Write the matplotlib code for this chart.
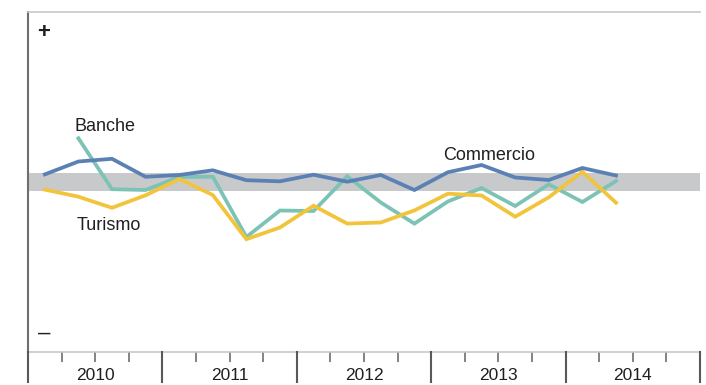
import matplotlib.pyplot as plt
import numpy as np

# trimestri 2010 T1 - 2014 T2
trimestri = ["2010T1", "2010T2", "2010T3", "2010T4",
             "2011T1", "2011T2", "2011T3", "2011T4",
             "2012T1", "2012T2", "2012T3", "2012T4",
             "2013T1", "2013T2", "2013T3", "2013T4",
             "2014T1", "2014T2"]
anni = ["2010", "2011", "2012", "2013", "2014"]

commercio = [0.76, 2.05, 2.32, 0.52, 0.70, 1.17, 0.18, 0.07, 0.73,
             0.03, 0.70, -0.80, 0.98, 1.70, 0.45, 0.20, 1.40, 0.65]
banche = [np.nan, 4.37, -0.72, -0.80, 0.50, 0.53, -5.50, -2.85, -2.90,
          0.57, -2.05, -4.16, -1.94, -0.60, -2.40, -0.23, -2.00, 0.10]
turismo = [-0.76, -1.47, -2.58, -1.33, 0.30, -1.30, -5.72, -4.55, -2.37,
           -4.16, -4.05, -2.84, -1.17, -1.35, -3.47, -1.53, 1.02, -2.07]

# fascia di normalità attorno allo zero
fascia = (-0.9, 0.9)

plt.rcParams['font.family'] = ['DejaVu Sans Condensed', 'Liberation Sans', 'DejaVu Sans']

fig = plt.figure(figsize=(7.06, 3.85), dpi=100)
ax = fig.add_axes([28 / 706, 1 - 352 / 385, 672 / 706, 340 / 385])

x = np.arange(len(trimestri)) + 0.5
n_anni = len(anni)
ax.set_xlim(0, n_anni * 4)
ax.set_ylim(-17, 17)

ax.axhspan(fascia[0], fascia[1], color='#c8c9cb', lw=0, zorder=1)

ax.plot(x, commercio, color='#5b80b4', lw=2.7, zorder=3, solid_joinstyle='miter')
ax.plot(x, banche, color='#7cc3b6', lw=2.7, zorder=2, solid_joinstyle='miter')
ax.plot(x, turismo, color='#f2c43c', lw=2.7, zorder=2, solid_joinstyle='miter')

# etichette delle serie
ax.text(1.38, 5.1, "Banche", fontsize=13, color='#231f20', va='baseline')
ax.text(1.45, -4.8, "Turismo", fontsize=13, color='#231f20', va='baseline')
ax.text(12.35, 2.2, "Commercio", fontsize=13, color='#231f20', va='baseline')

# segni + e -
ax.text(0.45, 15.0, "+", fontsize=16, fontweight='bold', color='#231f20',
        ha='center', va='center')
ax.text(0.48, -15.1, "\u2013", fontsize=16, color='#231f20',
        ha='center', va='center')

# assi
ax.spines['right'].set_visible(False)
ax.spines['top'].set_color('#c8c8c8')
ax.spines['top'].set_linewidth(1.2)
ax.spines['bottom'].set_color('#c8c8c8')
ax.spines['bottom'].set_linewidth(1.2)
ax.spines['left'].set_color('#6d6e71')
ax.spines['left'].set_linewidth(1.5)
ax.set_yticks([])

# tacche trimestrali
ax.set_xticks([q for q in range(n_anni * 4 + 1) if q % 4 != 0])
ax.set_xticklabels([])
ax.tick_params(axis='x', direction='out', length=7, width=1.2, color='#6d6e71')

# separatori d'anno fino al bordo inferiore
for k in range(n_anni + 1):
    ax.plot([4 * k, 4 * k], [-17, -20], color='#58595b', lw=1.5,
            clip_on=False, zorder=4)

for k, anno in enumerate(anni):
    ax.text(4 * k + 2, -19.35, anno, fontsize=12.5, color='#231f20',
            ha='center', va='center', clip_on=False)

fig.savefig("out.png", dpi=100)
